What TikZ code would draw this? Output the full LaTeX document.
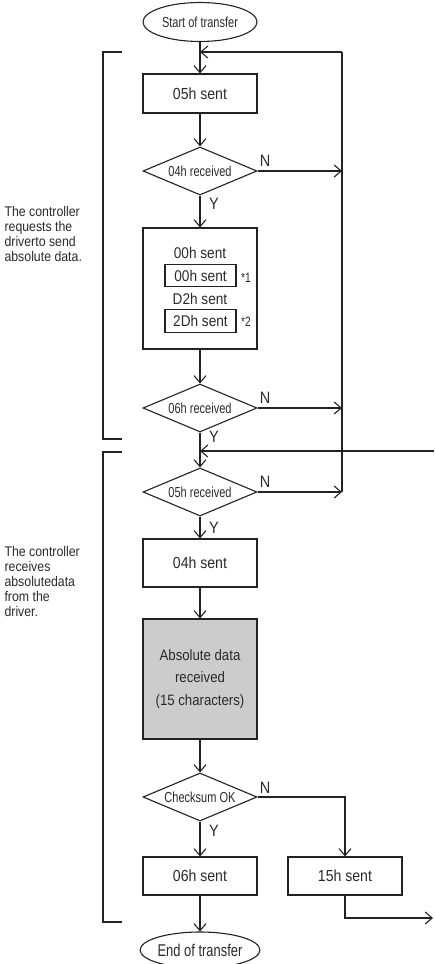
\documentclass[tikz,border=0pt]{standalone}
\usepackage{fontspec}
\setmainfont{Liberation Sans}[FakeStretch=0.88]
\newfontfamily\condf{Liberation Sans}[FakeStretch=0.76]
\usetikzlibrary{shapes.geometric,arrows.meta}
\definecolor{ink}{HTML}{222222}
\definecolor{txt}{HTML}{2A2A2A}
\definecolor{greyfill}{HTML}{CCCCCC}
\begin{document}
\begin{tikzpicture}[x=1pt,y=-1pt,
  line width=1.1pt, draw=ink, text=txt,
  procbox/.style={draw=ink, rectangle, minimum width=114pt, inner sep=0pt,
    font=\fontsize{16}{19}\selectfont},
  innerbox/.style={draw=ink, rectangle, minimum width=71pt, minimum height=22.5pt, inner sep=0pt,
    font=\fontsize{15.5}{18}\selectfont},
  plaintext/.style={inner sep=0pt, font=\fontsize{15.5}{18}\selectfont},
  decis/.style={draw=ink, diamond, aspect=2.375, minimum width=114pt, minimum height=48pt,
    inner sep=0pt, font=\condf\fontsize{14.5}{17}\selectfont},
  termin/.style={draw=ink, ellipse, inner sep=0pt},
  yn/.style={inner sep=0pt, font=\fontsize{16.5}{19}\selectfont},
  star/.style={inner sep=0pt, anchor=west, font=\condf\fontsize{13.5}{15}\selectfont},
  side/.style={inner sep=0pt, anchor=west, align=left, font=\fontsize{14}{15}\selectfont},
  arr/.style={draw=ink, -{Straight Barb[length=7pt,width=12pt]}}
]
\useasboundingbox (0,0) rectangle (434,964);

% terminals
\node[termin, minimum width=114pt, minimum height=39pt, font=\condf\fontsize{14.5}{17}\selectfont]
  (start) at (200,22) {Start of transfer};
\node[termin, minimum width=115pt, minimum height=36pt, font=\condf\fontsize{17}{20}\selectfont]
  (endt) at (200,950) {End of transfer};

% process boxes
\node[procbox, minimum height=39pt] (b1) at (200,93.5) {05h sent};
\node[procbox, minimum height=121pt] (b2) at (200,288.5) {};
\node[plaintext] (t1) at (200,253) {00h sent};
\node[innerbox] (i1) at (200.5,275.5) {00h sent};
\node[plaintext] (t2) at (200,299) {D2h sent};
\node[innerbox] (i2) at (200.5,321) {2Dh sent};
\node[star] (s1) at (240.5,278) {*1};
\node[star] (s2) at (240.5,322) {*2};
\node[procbox, minimum height=48pt] (b3) at (200,563) {04h sent};
\node[procbox, minimum height=120pt, fill=greyfill, align=center,
  font=\fontsize{15}{22.5}\selectfont] (g) at (200,679)
  {Absolute data\\received\\(15 characters)};
\node[procbox, minimum height=38pt] (b4) at (200,876) {06h sent};
\node[procbox, minimum height=38pt] (b5) at (345,876) {15h sent};

% decisions
\node[decis] (d1) at (200,171) {04h received};
\node[decis] (d2) at (200,408) {06h received};
\node[decis] (d3) at (200,492) {05h received};
\node[decis] (d4) at (200,797) {Checksum OK};

% Y / N labels
\node[yn] (n1) at (265,161) {N};
\node[yn] (y1) at (214,204) {Y};
\node[yn] (n2) at (265,398) {N};
\node[yn] (y2) at (214,437) {Y};
\node[yn] (n3) at (265,482) {N};
\node[yn] (y3) at (214,528) {Y};
\node[yn] (n4) at (265,788) {N};
\node[yn] (y4) at (214,831) {Y};

% side texts
\node[side] (side1) at (4,233.5) {The controller\\requests the\\driverto send\\absolute data.};
\node[side] (side2) at (4,581) {The controller\\receives\\absolutedata\\from the\\driver.};

% coordinates for loops
\coordinate (r1) at (342,52);
\coordinate (r2) at (342,492);
\coordinate (j1) at (200,52);
\coordinate (e1) at (434,451);
\coordinate (j2) at (200,451);
\coordinate (e2) at (433,918);

% connectors
\draw[arr] (start) -- (b1);
\draw[arr] (b1) -- (d1);
\draw[arr] (d1) -- (b2);
\draw[arr] (b2) -- (d2);
\draw[arr] (d2) -- (d3);
\draw[arr] (d3) -- (b3);
\draw[arr] (b3) -- (g);
\draw[arr] (g) -- (d4);
\draw[arr] (d4) -- (b4);
\draw[arr] (b4) -- (endt);
\draw (r1) -- (r2);
\draw[arr] (r1) -- (j1);
\draw[arr] (e1) -- (j2);
\draw[arr] (d1.east) -- (d1.east -| r1);
\draw[arr] (d2.east) -- (d2.east -| r1);
\draw[arr] (d3.east) -- (d3.east -| r1);
\draw[arr] (d4.east) -| (b5.north);
\draw[arr] (b5.south) |- (e2);

% brackets
\draw (122,52) -- (103,52) -- (103,439) -- (122,439);
\draw (122,452) -- (103,452) -- (103,922) -- (122,922);
\end{tikzpicture}
\end{document}
